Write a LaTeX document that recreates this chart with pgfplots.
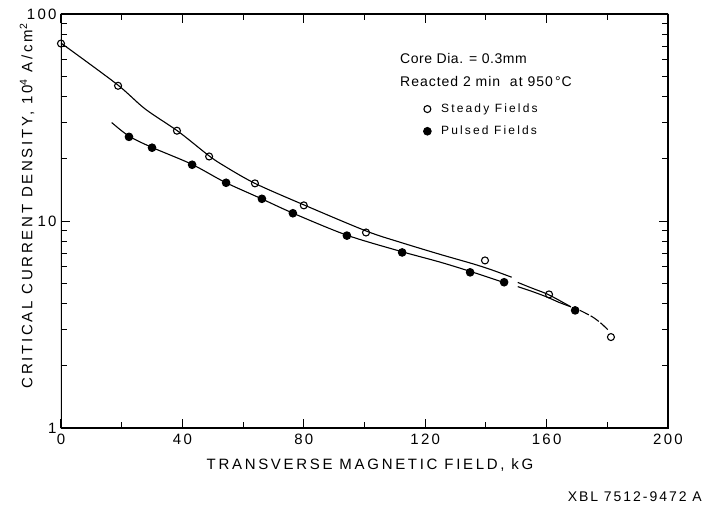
\documentclass[border=0pt]{standalone}
\usepackage{fontspec}
\setmainfont{Liberation Sans}
\usepackage{pgfplots}
\pgfplotsset{compat=1.18}
\newcommand{\lblfont}{\fontsize{15}{17}\selectfont\addfontfeatures{LetterSpace=18}}
\newcommand{\tl}[1]{\fontsize{15}{17}\selectfont\addfontfeatures{LetterSpace=15}#1}
\begin{document}
\begin{tikzpicture}[x=1pt,y=1pt]
\path (-61,-76) rectangle (645,428);
\begin{axis}[
  scale only axis, width=607pt, height=414pt,
  xmin=0, xmax=200, ymin=1, ymax=100, ymode=log,
  xtick={0,40,80,120,160,200}, minor xtick={20,60,100,140,180},
  xticklabels={\tl{0},\tl{40},\tl{80},\tl{120},\tl{160},\tl{200}},
  ytick={1,10,100}, yticklabels={\tl{1},\tl{10},\tl{100}},
  minor ytick={2,3,4,5,6,7,8,9,20,30,40,50,60,70,80,90},
  major tick length=9pt, minor tick length=6pt,
  tick style={black, line width=1pt},
  xticklabel style={yshift=-2pt},
  yticklabel style={xshift=-1pt},
  legend style={draw=none, fill=none, at={(axis description cs:0.597,0.788)}, anchor=north west,
    font=\fontsize{12}{14}\selectfont\addfontfeatures{LetterSpace=18}, row sep=8pt, inner sep=0pt,
    /tikz/every odd column/.style={column sep=8pt}},
  legend cell align=left,
]
% fitted curves
\addplot[black, line width=1.1pt, smooth, forget plot] coordinates {
 (0,72.4) (18.4,45.8) (27.7,34.8) (38.6,27.1) (48.5,20.8) (53.4,18.6) (63.9,15.2) (80.4,11.9) (100.7,8.93) (111.7,7.9) (124.9,6.9) (135.9,6.2) (142,5.8) (148.5,5.35)};
\addplot[black, line width=1.1pt, smooth, forget plot] coordinates {
 (150.5,5.05) (155,4.75) (160,4.45) (164,4.15) (168,3.85)};
\addplot[black, line width=1.1pt, smooth, forget plot] coordinates {
 (16.7,29.9) (22.4,25.7) (29.9,22.7) (43.1,18.8) (54,15.4) (65.6,12.9) (76.5,10.9) (94.1,8.55) (111.7,7.15) (124.9,6.33) (135,5.7) (145,5.1)};
\addplot[black, line width=1.1pt, smooth, forget plot] coordinates {
 (150.5,4.82) (155,4.58) (160,4.3) (164,4.05) (168,3.85)};
\addplot[black, line width=1.1pt, smooth, dash pattern=on 10pt off 2pt, forget plot] coordinates {
 (171,3.7) (175,3.45) (178,3.2) (180.5,2.95)};
% data points
\addplot[only marks, mark=o, mark size=3.5pt, mark options={line width=1.1pt, fill=white}] coordinates {
 (0,72) (18.8,45) (38.2,27.3) (48.8,20.5) (63.9,15.2) (80,11.9) (100.5,8.8) (139.7,6.45) (160.8,4.42) (181.2,2.75)};
\addlegendentry{Steady Fields}
\addplot[only marks, mark=*, mark size=3.8pt, mark options={fill=black, line width=1pt}] coordinates {
 (22.4,25.5) (30,22.6) (43.2,18.7) (54.4,15.3) (66.2,12.8) (76.4,10.9) (94.2,8.5) (112.4,7.05) (134.8,5.65) (146,5.06) (169.4,3.7)};
\addlegendentry{Pulsed Fields}
\draw[line width=1.5pt] (rel axis cs:0,0) rectangle (rel axis cs:1,1);
\end{axis}
\node[anchor=west, inner sep=0pt, font=\fontsize{14}{16}\selectfont\addfontfeatures{LetterSpace=4}] at (339,370) {Core Dia. = 0.3mm};
\node[anchor=west, inner sep=0pt, font=\fontsize{14}{16}\selectfont\addfontfeatures{LetterSpace=7}] at (339,347) {Reacted 2 min\ \ at 950\,°C};
\node[font=\lblfont] at (309,-37) {TRANSVERSE MAGNETIC FIELD, kG};
\node[font=\lblfont, rotate=90] at (-34,222) {CRITICAL CURRENT DENSITY, 10\textsuperscript{4} A/cm\textsuperscript{2}};
\node[anchor=east, inner sep=0pt, font=\fontsize{14}{16}\selectfont\addfontfeatures{LetterSpace=14}] at (641,-69) {XBL 7512-9472 A};
\end{tikzpicture}
\end{document}
